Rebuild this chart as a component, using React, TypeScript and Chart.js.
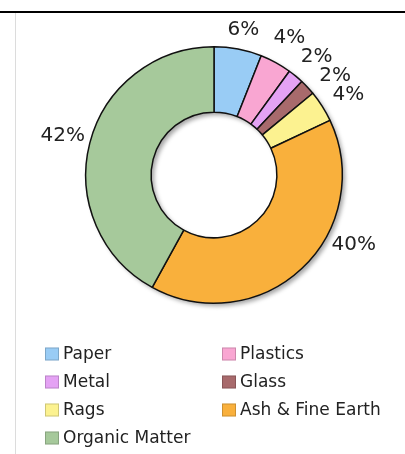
import React, { useEffect, useRef } from "react";
import { Chart, registerables } from "chart.js";

Chart.register(...registerables);

const categories = [
  "Paper",
  "Plastics",
  "Metal",
  "Glass",
  "Rags",
  "Ash & Fine Earth",
  "Organic Matter",
];
const shares = [6, 4, 2, 2, 4, 40, 42];
const sliceColors = [
  "#99CCF5",
  "#F9A6D2",
  "#E4A2F4",
  "#A86A6C",
  "#FCF290",
  "#F9B03C",
  "#A6C99B",
];
const valueLabels = shares.map((v) => `${v}%`);

const FONT = '"DejaVu Sans", Verdana, sans-serif';

const ringShadow = {
  id: "ringShadow",
  beforeDatasetsDraw(chart: any) {
    const arc = chart.getDatasetMeta(0).data[0];
    if (!arc) return;
    const { x, y, outerRadius, innerRadius } = arc.getProps(
      ["x", "y", "outerRadius", "innerRadius"],
      true
    );
    const ctx = chart.ctx;
    ctx.save();
    ctx.shadowColor = "rgba(0,0,0,0.35)";
    ctx.shadowBlur = 4;
    ctx.shadowOffsetX = 3;
    ctx.shadowOffsetY = 3;
    ctx.fillStyle = "#fff";
    ctx.beginPath();
    ctx.arc(x, y, outerRadius, 0, Math.PI * 2);
    ctx.arc(x, y, innerRadius, 0, Math.PI * 2, true);
    ctx.fill("evenodd");
    ctx.restore();
  },
};

const outerLabels = {
  id: "outerLabels",
  afterDatasetsDraw(chart: any, _args: any, opts: any) {
    const meta = chart.getDatasetMeta(0);
    const ctx = chart.ctx;
    const texts: string[] = opts.texts || [];
    ctx.save();
    ctx.font = `${opts.size}px ${FONT}`;
    ctx.fillStyle = opts.color;
    ctx.textAlign = "center";
    ctx.textBaseline = "middle";
    const halfH = (opts.size * 0.73) / 2;
    let prev: any = null;
    meta.data.forEach((el: any, i: number) => {
      const p = el.getProps(
        ["x", "y", "startAngle", "endAngle", "outerRadius"],
        true
      );
      const text = texts[i];
      const frac = (opts.anchor && opts.anchor[i]) ?? 0.5;
      let a = p.startAngle + (p.endAngle - p.startAngle) * frac;
      const r = p.outerRadius + opts.gap;
      const place = () => {
        const lx = p.x + Math.cos(a) * r;
        let ly = p.y + Math.sin(a) * r;
        if (ly - halfH < opts.minTop) ly = opts.minTop + halfH;
        return [lx, ly];
      };
      let [lx, ly] = place();
      const w = ctx.measureText(text).width;
      if (prev) {
        let guard = 0;
        while (
          guard++ < 300 &&
          Math.abs(lx - prev.x) < (w + prev.w) / 2 + 2 &&
          Math.abs(ly - prev.y) < opts.minGap
        ) {
          a += 0.005;
          [lx, ly] = place();
        }
      }
      ctx.fillText(text, lx, ly);
      prev = { x: lx, y: ly, w };
    });
    ctx.restore();
  },
};

const gridLegend = {
  id: "gridLegend",
  afterDraw(chart: any, _args: any, opts: any) {
    const ctx = chart.ctx;
    const labels: string[] = chart.data.labels;
    const colors: string[] = chart.data.datasets[0].backgroundColor;
    ctx.save();
    ctx.font = `${opts.size}px ${FONT}`;
    ctx.textBaseline = "middle";
    ctx.textAlign = "left";
    labels.forEach((lab, i) => {
      const col = i % opts.columns.length;
      const row = Math.floor(i / opts.columns.length);
      const bx = opts.columns[col];
      const cy = opts.top + row * opts.rowGap;
      ctx.fillStyle = colors[i];
      ctx.fillRect(bx, cy - 6.5, 14, 13);
      ctx.strokeStyle = "rgba(0,0,0,0.18)";
      ctx.lineWidth = 1;
      ctx.strokeRect(bx + 0.5, cy - 6, 13, 12);
      ctx.fillStyle = opts.color;
      ctx.fillText(lab, bx + 18, cy + 1);
    });
    ctx.restore();
  },
};

export default function App() {
  const ref = useRef<HTMLCanvasElement>(null);

  useEffect(() => {
    if (!ref.current) return;
    const chart = new Chart(ref.current, {
      type: "doughnut",
      data: {
        labels: categories,
        datasets: [
          {
            data: shares,
            backgroundColor: sliceColors,
            borderColor: "#111",
            borderWidth: 1.5,
            hoverBorderWidth: 1.5,
          },
        ],
      },
      options: {
        responsive: false,
        animation: false,
        events: [],
        cutout: "49%",
        layout: { padding: { left: 85, top: 46, right: 62, bottom: 150 } },
        plugins: {
          legend: { display: false },
          tooltip: { enabled: false },
          outerLabels: {
            texts: valueLabels,
            size: 20,
            color: "#222",
            gap: 28,
            minGap: 19,
            minTop: 22,
            anchor: { 5: 0.36 },
          },
          gridLegend: {
            size: 17,
            color: "#222",
            columns: [45, 222],
            top: 354,
            rowGap: 28,
          },
        } as any,
      },
      plugins: [ringShadow, outerLabels, gridLegend],
    });
    return () => chart.destroy();
  }, []);

  return (
    <div
      style={{
        position: "fixed",
        left: 0,
        top: 0,
        width: 405,
        height: 454,
        background: "#fff",
        overflow: "hidden",
      }}
    >
      <canvas
        ref={ref}
        width={405}
        height={454}
        style={{ position: "absolute", left: 0, top: 0, width: 405, height: 454 }}
      />
      <div
        style={{
          position: "absolute",
          left: 0,
          top: 11,
          width: 405,
          height: 2,
          background: "#000",
        }}
      />
      <div
        style={{
          position: "absolute",
          left: 15,
          top: 13,
          width: 1,
          height: 441,
          background: "#dcdcdc",
        }}
      />
    </div>
  );
}
